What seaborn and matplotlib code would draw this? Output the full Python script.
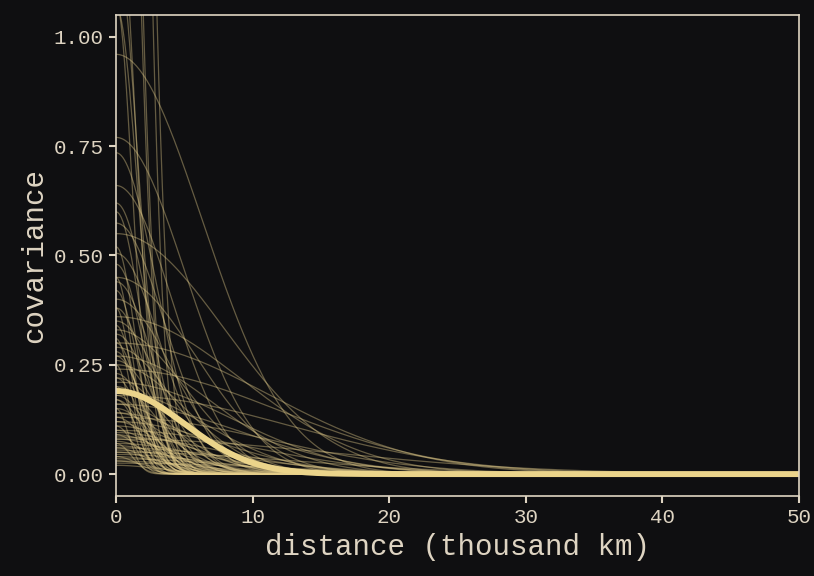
import numpy as np
import pandas as pd
import seaborn as sns
import matplotlib
matplotlib.use("Agg")
import matplotlib.pyplot as plt

# sampled kernel parameters: K(d) = eta_sq * exp(-rho_sq * d^2)
eta_sq = [5.6, 5.4, 2.78, 1.37, 1.07, 1.2, 1.08, 2.5, 0.96, 0.77,
          0.735, 0.66, 0.62, 0.574, 0.55, 0.505, 0.48, 0.45, 0.44, 0.42,
          0.40, 0.38, 0.36, 0.35, 0.34, 0.33, 0.32, 0.31, 0.30, 0.29,
          0.28, 0.27, 0.26, 0.25, 0.25, 0.24, 0.23, 0.22, 0.21, 0.20,
          0.20, 0.19, 0.18, 0.18, 0.17, 0.16, 0.16, 0.15, 0.15, 0.14,
          0.14, 0.13, 0.13, 0.12, 0.12, 0.11, 0.11, 0.10, 0.10, 0.095,
          0.09, 0.09, 0.085, 0.08, 0.08, 0.075, 0.07, 0.07, 0.065, 0.06,
          0.06, 0.055, 0.05, 0.05, 0.045, 0.04, 0.04, 0.035, 0.03, 0.03,
          0.025, 0.02, 0.60, 0.52, 0.45, 0.38, 0.30, 0.27, 0.22, 0.17]
rho_sq = [0.186, 0.224, 0.244, 0.264, 0.198, 0.2, 0.35, 0.25, 0.0126, 0.02,
          0.06, 0.03, 0.09, 0.04, 0.008, 0.05, 0.12, 0.015, 0.07, 0.2,
          0.03, 0.1, 0.006, 0.05, 0.25, 0.02, 0.08, 0.4, 0.004, 0.03,
          0.15, 0.01, 0.06, 0.5, 0.02, 0.0035, 0.1, 0.04, 0.007, 0.3,
          0.05, 0.012, 0.09, 0.003, 0.2, 0.025, 0.006, 0.07, 0.6, 0.015,
          0.035, 0.004, 0.11, 0.05, 0.009, 0.02, 0.3, 0.06, 0.005, 0.015,
          0.04, 0.15, 0.008, 0.025, 0.002, 0.07, 0.012, 0.4, 0.03, 0.006,
          0.1, 0.018, 0.05, 0.003, 0.01, 0.2, 0.03, 0.007, 0.015, 0.08,
          0.004, 0.05, 0.15, 0.25, 0.35, 0.4, 0.18, 0.13, 0.16, 0.12]

mean_eta_sq = 0.19
mean_rho_sq = 0.02

distance = np.linspace(0, 50, 400)

bg = "#0f0f11"
fg = "#ded4c2"
line_col = "#e6cf8c"

sns.set_theme(style="ticks")
plt.rcParams["font.family"] = ["Liberation Mono", "DejaVu Sans Mono"]

rows = []
for i, (e, r) in enumerate(zip(eta_sq, rho_sq)):
    rows.append(pd.DataFrame({"draw": i, "d": distance,
                              "cov": e * np.exp(-r * distance ** 2)}))
df = pd.concat(rows, ignore_index=True)
mean_df = pd.DataFrame({"d": distance,
                        "cov": mean_eta_sq * np.exp(-mean_rho_sq * distance ** 2)})

fig, ax = plt.subplots(figsize=(8.14, 5.76), dpi=100)
fig.patch.set_facecolor(bg)
ax.set_facecolor(bg)
fig.subplots_adjust(left=0.1425, right=0.9816, top=0.974, bottom=0.139)

sns.lineplot(data=df, x="d", y="cov", units="draw", estimator=None,
             color=line_col, alpha=0.4, linewidth=0.9, ax=ax, legend=False)
sns.lineplot(data=mean_df, x="d", y="cov", color="#ebd48b", linewidth=4.3, ax=ax)

ax.set_xlim(0, 50)
ax.set_ylim(-0.05, 1.05)
ax.set_xticks([0, 10, 20, 30, 40, 50])
ax.set_yticks([0, 0.25, 0.5, 0.75, 1.0])
ax.set_yticklabels(["0.00", "0.25", "0.50", "0.75", "1.00"])
ax.set_xlabel("distance (thousand km)", fontsize=21, color=fg)
ax.set_ylabel("covariance", fontsize=21, color=fg)
ax.tick_params(colors=fg, labelsize=15, length=5, width=1.5, pad=4)
for s in ax.spines.values():
    s.set_color(fg)
    s.set_linewidth(1.2)

fig.savefig("out.png", dpi=100, facecolor=bg)
